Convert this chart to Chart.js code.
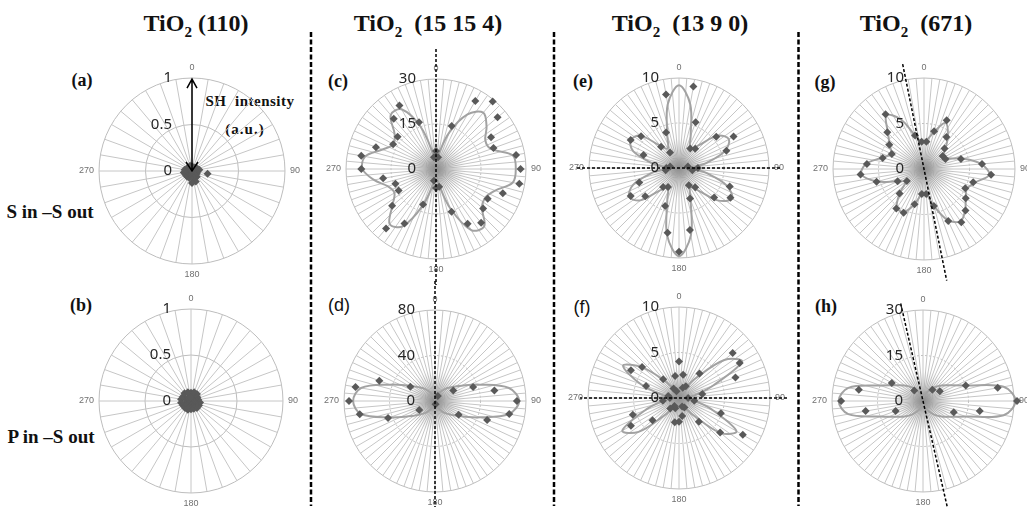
<!DOCTYPE html>
<html>
<head>
<meta charset="utf-8">
<script src="https://cdn.jsdelivr.net/npm/chart.js@4.4.1/dist/chart.umd.min.js"></script>
<style>
  html, body { margin:0; padding:0; background:#fff; }
  #fig { position:relative; width:1027px; height:512px; overflow:hidden; background:#fff; }
  #fig canvas { position:absolute; }
  #fig svg { position:absolute; left:0; top:0; }
  .txt { position:absolute; transform:translate(-50%,-50%); white-space:nowrap; color:#111;
         font-family:"Liberation Serif","Times New Roman",serif; font-weight:bold; line-height:1; }
  .title { font-size:24px; }
  .title .sub { font-size:15px; position:relative; top:6px; }
  .panel { font-size:18px; }
  .panel.sans { font-family:"Liberation Sans",Arial,sans-serif; font-weight:normal; font-size:18px; }
  .row { font-size:19px; }
  .note { font-size:15px; }
</style>
</head>
<body>
<div id="fig">
  <svg width="1027" height="512">
    <g stroke="#000" stroke-width="2.5" stroke-dasharray="5 2.5">
      <line x1="311" y1="32" x2="311" y2="506"/>
      <line x1="554" y1="32" x2="554" y2="506"/>
      <line x1="798.5" y1="32" x2="798.5" y2="506"/>
    </g>
  </svg>

  <div class="txt title" style="left:196px;top:23px">TiO<span class="sub">2</span> (110)</div>
  <div class="txt title" style="left:428px;top:23px">TiO<span class="sub">2</span>&nbsp; (15 15 4)</div>
  <div class="txt title" style="left:680px;top:23px">TiO<span class="sub">2</span>&nbsp; (13 9 0)</div>
  <div class="txt title" style="left:916px;top:23px">TiO<span class="sub">2</span>&nbsp; (671)</div>

  <div class="txt row" style="left:50px;top:211px">S in –S out</div>
  <div class="txt row" style="left:51px;top:436px">P in –S out</div>

  <div class="txt panel" style="left:82px;top:80px">(a)</div>
  <div class="txt panel" style="left:81px;top:305px">(b)</div>
  <div class="txt panel" style="left:338px;top:81px">(c)</div>
  <div class="txt panel sans" style="left:339px;top:305px">(d)</div>
  <div class="txt panel" style="left:583px;top:81px">(e)</div>
  <div class="txt panel sans" style="left:582px;top:307px">(f)</div>
  <div class="txt panel" style="left:825px;top:82px">(g)</div>
  <div class="txt panel" style="left:826px;top:306px">(h)</div>

  <div class="txt note" style="left:250px;top:101px;letter-spacing:0.5px">SH&nbsp; intensity</div>
  <div class="txt note" style="left:245px;top:129px;letter-spacing:1px">(a.u.)</div>
</div>

<script>
// Polarisation angles (degrees, clockwise from top)
const angles10 = ['0','10','20','30','40','50','60','70','80','90','100','110','120','130','140','150','160','170',
  '180','190','200','210','220','230','240','250','260','270','280','290','300','310','320','330','340','350'];
const angles5 = ['0','5','10','15','20','25','30','35','40','45','50','55','60','65','70','75','80','85',
  '90','95','100','105','110','115','120','125','130','135','140','145','150','155','160','165','170','175',
  '180','185','190','195','200','205','210','215','220','225','230','235','240','245','250','255','260','265',
  '270','275','280','285','290','295','300','305','310','315','320','325','330','335','340','345','350','355'];
const axisLabels = ['0', '90', '180', '270'];

// Radial axis maxima (SH intensity, a.u.)
const maxA = 1, maxB = 1, maxC = 30, maxD = 80, maxE = 10, maxF = 10, maxG = 10, maxH = 30;

// (a) TiO2(110), S-in / S-out, measured every 10 deg
const aPoints = [0.05,0.03,0.04,0.02,0.05,0.03,0.06,0.04,0.08,0.06,0.17,0.05,0.06,0.03,0.08,0.05,0.12,0.07,
  0.13,0.05,0.08,0.03,0.08,0.05,0.08,0.04,0.09,0.05,0.08,0.03,0.06,0.04,0.05,0.02,0.06,0.04];
// (b) TiO2(110), P-in / S-out
const bPoints = [0.09,0.05,0.10,0.04,0.10,0.06,0.08,0.03,0.08,0.06,0.10,0.04,0.10,0.06,0.10,0.03,0.09,0.05,
  0.09,0.04,0.10,0.06,0.10,0.03,0.10,0.06,0.11,0.04,0.11,0.06,0.10,0.03,0.11,0.05,0.10,0.04];

// (c) TiO2(15 15 4), S-in / S-out, every 10 deg from 0
const cPoints = [6,4,15.3,26.2,29.4,26.8,21.2,20.4,27.1,28.2,28.2,23.7,19.9,20.5,23.4,21.1,15.2,6,
  6.3,4,12.6,21.0,25.9,19.1,14.4,14.4,17.9,24.9,25.3,21.3,16.5,16.7,21.9,24.4,16.6,4];
const cFit = [2,5,13,21,24.5,22,19,19.5,26,26.6,26,21,19,20,25,23.5,14,5,
  2,5,13,22,24,19,16,17,21,24.5,24,19,16.5,18,23.5,23,15,5];

// (d) TiO2(15 15 4), P-in / S-out
const dPoints = [null,null,null,5,null,null,18.5,35.7,53,72,66.3,48.8,24,null,null,null,null,3,
  null,null,null,null,null,null,16,43.9,67.2,75.6,71,52.1,25,null,null,null,null,null];
const dFit = [1,2,5,9,14,19,27,42,66,74,66,42,27,19,14,9,5,2,
  1,2,5,9,14,19,27,42,66,72,66,42,27,19,14,9,5,2];

// (e) TiO2(13 9 0), S-in / S-out
const ePoints = [null,9.2,5.4,2.5,2.8,5.4,7.0,5.6,1.0,2.1,1.5,6.0,6.6,5.1,2.8,2.2,3.6,7.0,
  9.3,7.3,4.5,2.45,2.75,4.9,6.2,4.7,1.5,1.4,1.0,4.2,6.2,5.5,3.1,2.0,4.2,8.3];
const eFit = [9.2,7.2,3.8,2.5,3.2,5.6,6.4,5.4,3.0,1.5,3.0,5.6,6.8,5.6,3.2,2.5,3.8,7.6,
  9.8,7.6,3.8,2.5,3.2,5.6,6.4,5.4,3.0,1.5,3.0,5.4,6.2,5.6,3.2,2.5,3.8,7.2];

// (f) TiO2(13 9 0), P-in / S-out
const fPoints = [4.0,2.6,1.2,1.5,3.5,7.7,7.7,6.6,2.6,1.0,1.7,4.9,8.1,5.9,3.4,1.2,1.0,2.0,
  2.6,2.7,1.2,1.0,1.5,3.8,6.1,5.4,1.8,1.0,1.2,3.85,6.1,5.3,2.7,1.2,0.8,2.45];
const fFit = [1.0,0.8,0.8,1.2,2.8,6.5,8.0,4.0,1.8,0.9,1.8,4.0,7.3,6.0,2.5,1.2,0.8,0.8,
  1.0,0.8,0.8,1.2,2.5,5.8,7.2,4.0,1.8,0.9,1.8,4.5,7.1,5.2,2.5,1.2,0.8,0.8];

// (g) TiO2(671), S-in / S-out, every 10 deg from 5
const gPoints = [3.0,4.3,5.9,4.3,3.2,2.5,2.6,4.2,6.4,7.4,5.6,5.0,5.6,6.45,7.15,6.3,4.2,2.75,
  2.75,4.0,5.3,5.3,3.8,2.3,3.2,5.4,7.0,6.3,4.7,3.9,4.65,5.7,7.36,null,3.8,3.0];
const gFit = [3.2,4.2,5.6,4.6,3.4,2.6,2.8,4.4,6.3,7.2,5.8,5.2,5.6,6.4,7.0,6.2,4.2,2.8,
  2.8,4.0,5.2,5.2,3.8,2.5,3.2,5.3,6.9,6.4,4.8,4.0,4.6,5.6,7.2,6.0,3.8,3.0];

// (h) TiO2(671), P-in / S-out
const hPoints = [null,null,null,null,4.8,null,6.4,15,25,31,19,10.8,null,null,null,null,null,null,
  null,null,null,null,null,null,null,9.6,19.2,27,21.5,null,11.9,null,4.5,null,null,null];
const hFit = [1,1.5,2.5,4,6,8,10.4,15,27,30.5,27,15,10.4,8,6,4,2.5,1.5,
  1,1.5,2.5,4,6,8,10.4,15,25,27.8,25,15,10.4,8,6,4,2.5,1.5];

// Places 10-degree samples onto the 5-degree angular grid
function onFiveDegreeGrid(values, offset) {
  const out = new Array(72).fill(null);
  values.forEach((v, i) => { out[i * 2 + offset] = v; });
  return out;
}

// Centre shading where the dense spokes meet, tick labels left of the
// 0-degree axis, guide lines and the intensity arrow
const panelDecor = {
  id: 'panelDecor',
  beforeDatasetsDraw(chart, args, opts) {
    if (!opts.haze) return;
    const s = chart.scales.r, ctx = chart.ctx;
    const g = ctx.createRadialGradient(s.xCenter, s.yCenter, 0, s.xCenter, s.yCenter, 30);
    g.addColorStop(0, 'rgba(90,90,90,0.55)');
    g.addColorStop(0.45, 'rgba(120,120,120,0.25)');
    g.addColorStop(1, 'rgba(150,150,150,0)');
    ctx.save();
    ctx.fillStyle = g;
    ctx.beginPath();
    ctx.arc(s.xCenter, s.yCenter, 30, 0, Math.PI * 2);
    ctx.fill();
    ctx.restore();
  },
  afterDatasetsDraw(chart, args, opts) {
    const s = chart.scales.r;
    const ctx = chart.ctx;
    const cx = s.xCenter, cy = s.yCenter;
    ctx.save();
    if (opts.guide) {
      const g = opts.guide;
      const a = g.angle * Math.PI / 180;
      const ux = Math.sin(a), uy = -Math.cos(a);
      ctx.strokeStyle = '#000';
      ctx.lineWidth = 1.5;
      ctx.setLineDash([3, 2]);
      ctx.beginPath();
      ctx.moveTo(cx + ux * g.ahead, cy + uy * g.ahead);
      ctx.lineTo(cx - ux * g.behind, cy - uy * g.behind);
      ctx.stroke();
      ctx.setLineDash([]);
    }
    if (opts.arrow) {
      const top = cy - s.drawingArea + 1;
      ctx.strokeStyle = '#000';
      ctx.lineWidth = 1.5;
      ctx.beginPath();
      ctx.moveTo(cx, cy); ctx.lineTo(cx, top);
      ctx.moveTo(cx - 5, top + 9); ctx.lineTo(cx, top); ctx.lineTo(cx + 5, top + 9);
      ctx.moveTo(cx - 6, cy - 9); ctx.lineTo(cx, cy); ctx.lineTo(cx + 6, cy - 9);
      ctx.stroke();
    }
    ctx.font = '15px "Noto Sans", sans-serif';
    ctx.fillStyle = '#262626';
    ctx.textAlign = 'right';
    ctx.textBaseline = 'middle';
    s.ticks.forEach(t => {
      const text = String(Math.round(t.value * 100) / 100);
      ctx.fillText(text, cx - opts.tickGap, cy - s.getDistanceFromCenterForValue(t.value));
    });
    ctx.restore();
  }
};

function pointSet(data) {
  return {
    data, showLine: false, fill: false, order: 0,
    pointStyle: 'rectRot', pointRadius: 4, pointHoverRadius: 4, pointBorderWidth: 0,
    pointBackgroundColor: '#595959', pointBorderColor: '#595959'
  };
}
function fitSet(data) {
  return {
    data, fill: false, order: 1, spanGaps: true, tension: 0.35,
    borderColor: '#a2a2a2', borderWidth: 2, pointRadius: 0, pointHoverRadius: 0
  };
}

const panels = [
  { cx:192, cy:172, R:93, max:maxA, labels:angles10, sets:[pointSet(aPoints)], dashedInner:false,
    arrow:true, haze:false, tickGap:20 },
  { cx:191, cy:402, R:92, max:maxB, labels:angles10, sets:[pointSet(bPoints)], dashedInner:false,
    haze:false, tickGap:20 },
  { cx:436, cy:170, R:90, max:maxC, labels:angles5,
    sets:[pointSet(onFiveDegreeGrid(cPoints,0)), fitSet(onFiveDegreeGrid(cFit,0))],
    dashedInner:true, haze:true, guide:{angle:0, ahead:120, behind:116}, tickGap:20 },
  { cx:435, cy:402, R:91, max:maxD, labels:angles5,
    sets:[pointSet(onFiveDegreeGrid(dPoints,0)), fitSet(onFiveDegreeGrid(dFit,0))],
    dashedInner:true, haze:true, guide:{angle:0, ahead:130, behind:106}, tickGap:20 },
  { cx:679, cy:169, R:90, max:maxE, labels:angles5,
    sets:[pointSet(onFiveDegreeGrid(ePoints,0)), fitSet(onFiveDegreeGrid(eFit,0))],
    dashedInner:true, haze:true, guide:{angle:90, ahead:101, behind:102}, tickGap:20 },
  { cx:679, cy:399, R:91, max:maxF, labels:angles5,
    sets:[pointSet(onFiveDegreeGrid(fPoints,0)), fitSet(onFiveDegreeGrid(fFit,0))],
    dashedInner:true, haze:true, guide:{angle:90, ahead:108, behind:99}, tickGap:20 },
  { cx:924, cy:170, R:91, max:maxG, labels:angles5,
    sets:[pointSet(onFiveDegreeGrid(gPoints,1)), fitSet(onFiveDegreeGrid(gFit,1))],
    dashedInner:true, haze:true, guide:{angle:-11.5, ahead:107, behind:114}, tickGap:20 },
  { cx:923, cy:402, R:91, max:maxH, labels:angles5,
    sets:[pointSet(onFiveDegreeGrid(hPoints,0)), fitSet(onFiveDegreeGrid(hFit,0))],
    dashedInner:true, haze:true, guide:{angle:-12.9, ahead:100, behind:108}, tickGap:20 }
];

const SIZE = 244;
const fig = document.getElementById('fig');
panels.forEach(p => {
  const cv = document.createElement('canvas');
  cv.width = SIZE; cv.height = SIZE;
  cv.style.left = (p.cx - SIZE / 2 - 2) + 'px';
  cv.style.top = (p.cy - SIZE / 2) + 'px';
  fig.appendChild(cv);
  const pad = 102 - p.R;
  new Chart(cv, {
    type: 'radar',
    data: { labels: p.labels, datasets: p.sets },
    options: {
      responsive: false, animation: false, devicePixelRatio: 1, events: [],
      layout: { padding: pad },
      plugins: {
        legend: { display: false }, tooltip: { enabled: false },
        panelDecor: { guide: p.guide, arrow: p.arrow, haze: p.haze, tickGap: p.tickGap }
      },
      scales: {
        r: {
          min: 0, max: p.max, startAngle: 0,
          ticks: { display: false, stepSize: p.max / 2 },
          grid: { circular: true, color: '#bdbdbd', lineWidth: 1 },
          border: { dash: c => (p.dashedInner && c.index === 1) ? [2, 2] : [] },
          angleLines: { color: '#c6c6c6', lineWidth: 1 },
          pointLabels: {
            padding: 5, color: '#707070',
            font: { family: 'Liberation Sans', size: 9 },
            callback: lbl => axisLabels.includes(lbl) ? lbl : ''
          }
        }
      }
    },
    plugins: [panelDecor]
  });
});
</script>
</body>
</html>
